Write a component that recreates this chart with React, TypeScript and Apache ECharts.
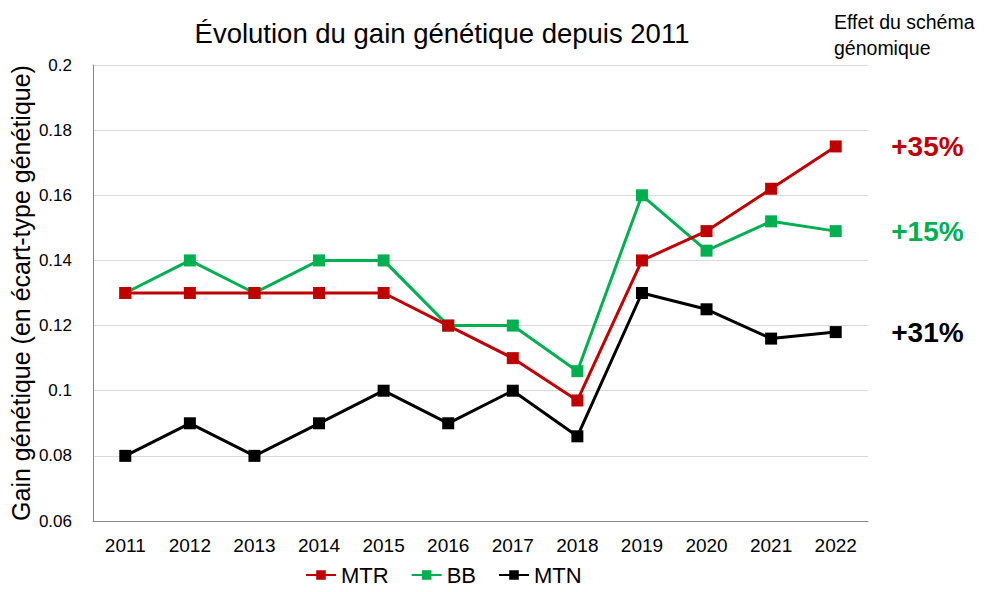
import React, { useEffect, useRef } from "react";
import * as echarts from "echarts";

const years = ["2011", "2012", "2013", "2014", "2015", "2016", "2017", "2018", "2019", "2020", "2021", "2022"];
const mtr = [0.13, 0.13, 0.13, 0.13, 0.13, 0.12, 0.11, 0.097, 0.14, 0.149, 0.162, 0.175];
const bb = [0.13, 0.14, 0.13, 0.14, 0.14, 0.12, 0.12, 0.106, 0.16, 0.143, 0.152, 0.149];
const mtn = [0.08, 0.09, 0.08, 0.09, 0.1, 0.09, 0.1, 0.086, 0.13, 0.125, 0.116, 0.118];
const effects = ["+35%", "+15%", "+31%"];

const FONT = "'Liberation Sans', Arial, sans-serif";

export default function App() {
  const ref = useRef<HTMLDivElement>(null);
  useEffect(() => {
    if (!ref.current) return;
    const chart = echarts.init(ref.current, null, { renderer: "svg" });
    const colors = ["#C00000", "#00B050", "#000000"];
    const mk = (name: string, data: number[], color: string, z: number) => ({
      name,
      type: "line",
      data,
      symbol: "rect",
      symbolSize: 12,
      lineStyle: { color, width: 3 },
      itemStyle: { color },
      z,
    });
    const lastIdx = years.length - 1;
    const lastVals = [mtr[lastIdx], bb[lastIdx], mtn[lastIdx]];
    const series: any[] = [
      mk("MTN", mtn, colors[2], 2),
      mk("BB", bb, colors[1], 3),
      mk("MTR", mtr, colors[0], 4),
      {
        type: "scatter",
        data: lastVals.map((v, i) => ({
          value: [lastIdx, v],
          label: {
            show: true,
            formatter: effects[i],
            position: "right",
            distance: 55,
            color: colors[i],
            opacity: 1,
            fontSize: 28,
            fontWeight: "bold",
            fontFamily: FONT,
          },
        })),
        symbolSize: 1,
        itemStyle: { color: "rgba(255,255,255,0)", opacity: 1 },
        emphasis: { disabled: true },
        silent: true,
        z: 1,
      },
    ];
    chart.setOption({
      animation: false,
      backgroundColor: "#ffffff",
      title: {
        text: "Évolution du gain génétique depuis 2011",
        left: 437,
        textAlign: "center",
        top: 14,
        textStyle: { fontFamily: FONT, fontSize: 27.5, fontWeight: "normal", color: "#000" },
      },
      graphic: [
        {
          type: "text",
          left: 834,
          top: 9,
          style: {
            text: "Effet du schéma\ngénomique",
            fontFamily: FONT,
            fontSize: 19.5,
            lineHeight: 26,
            fill: "#000",
          },
        },
      ],
      legend: {
        data: ["MTR", "BB", "MTN"],
        bottom: 1,
        left: 300,
        itemWidth: 30,
        itemHeight: 12,
        itemGap: 22,
        textStyle: { fontFamily: FONT, fontSize: 22, color: "#000" },
      },
      grid: { left: 93, right: 126, top: 65, bottom: 71, containLabel: false, outerBoundsMode: "none" },
      xAxis: {
        type: "category",
        data: years,
        boundaryGap: true,
        axisLine: { lineStyle: { color: "#868686", width: 1 } },
        axisTick: { show: false },
        axisLabel: { fontFamily: FONT, fontSize: 19, color: "#000", margin: 15 },
      },
      yAxis: {
        type: "value",
        min: 0.06,
        max: 0.2,
        interval: 0.02,
        name: "Gain génétique (en écart-type génétique)",
        nameLocation: "middle",
        nameGap: 60,
        nameMoveOverlap: false,
        nameTextStyle: { fontFamily: FONT, fontSize: 25, color: "#000" },
        axisLine: { show: true, lineStyle: { color: "#868686", width: 1 } },
        axisTick: { show: false },
        splitLine: { lineStyle: { color: "#D9D9D9", width: 1 } },
        axisLabel: {
          fontFamily: FONT,
          fontSize: 17,
          color: "#000",
          margin: 21,
          formatter: (v: number) => String(parseFloat(v.toFixed(2))),
        },
      },
      series,
    });
    return () => chart.dispose();
  }, []);
  return <div ref={ref} style={{ width: 994, height: 592, position: "absolute", left: 0, top: 0 }} />;
}
